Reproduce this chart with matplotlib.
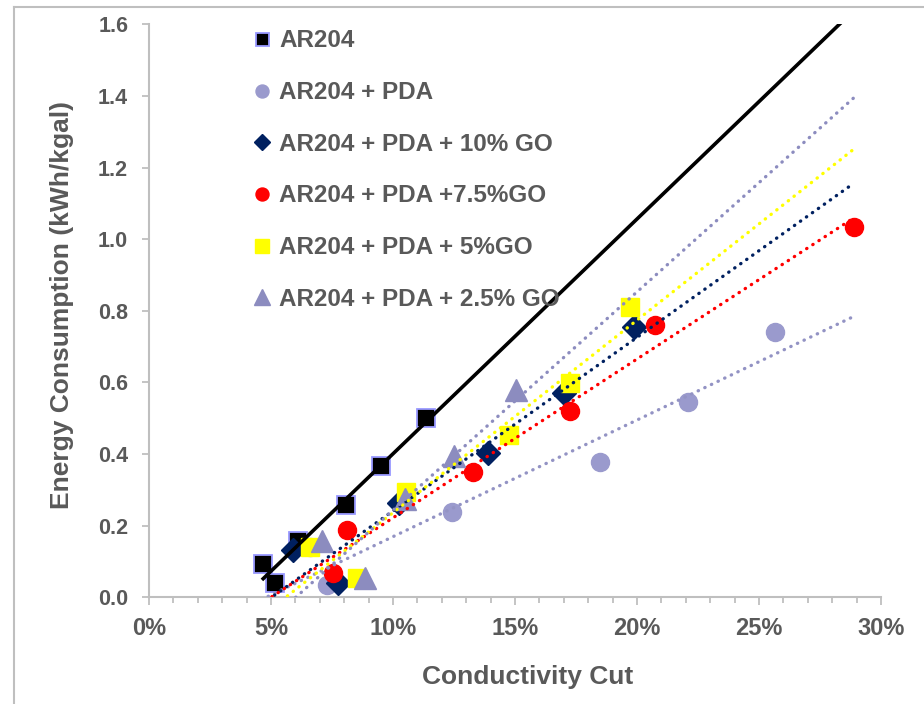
import numpy as np
import matplotlib
matplotlib.use("Agg")
import matplotlib.pyplot as plt
from matplotlib.lines import Line2D
from matplotlib.ticker import MultipleLocator, FuncFormatter

plt.rcParams['font.family'] = ['Liberation Sans', 'DejaVu Sans']
plt.rcParams['font.weight'] = 'bold'

# Conductivity cut (%) and energy consumption (kWh/kgal)
ar204_x = [4.68, 5.17, 6.11, 8.08, 9.52, 11.36]
ar204_y = [0.093, 0.040, 0.157, 0.258, 0.367, 0.501]

# first point sits behind a yellow square
pda_x = [6.60, 7.30, 12.42, 18.47, 22.07, 25.66]
pda_y = [0.141, 0.034, 0.237, 0.377, 0.545, 0.741]

go10_x = [5.92, 7.76, 10.23, 13.88, 17.02, 19.89]
go10_y = [0.132, 0.039, 0.262, 0.402, 0.570, 0.754]

go75_x = [7.56, 8.13, 13.28, 17.27, 20.74, 28.89]
go75_y = [0.067, 0.188, 0.351, 0.521, 0.760, 1.035]

go5_x = [6.60, 8.52, 10.54, 14.74, 17.24, 19.70]
go5_y = [0.141, 0.053, 0.295, 0.453, 0.598, 0.810]

go25_x = [7.08, 8.86, 10.50, 12.51, 15.05]
go25_y = [0.158, 0.053, 0.275, 0.395, 0.578]

labels = ['AR204', 'AR204 + PDA', 'AR204 + PDA + 10% GO', 'AR204 + PDA +7.5%GO',
          'AR204 + PDA + 5%GO', 'AR204 + PDA + 2.5% GO']

series = [
    (ar204_x, ar204_y, dict(marker='s', color='black', ms=13, mec='#9999FF', mew=1.3), 'black', '-'),
    (pda_x, pda_y, dict(marker='o', color='#9A9ACD', ms=13, mec='#9A9ACD'), '#9393C4', 'dot'),
    (go10_x, go10_y, dict(marker='D', color='#002060', ms=12, mec='#002060'), '#002060', 'dot'),
    (go75_x, go75_y, dict(marker='o', color='#FF0000', ms=13, mec='#FF0000'), '#FF0000', 'dot'),
    (go5_x, go5_y, dict(marker='s', color='#FFFF00', ms=13.5, mec='#FFFF00'), '#FFFF00', 'dot'),
    (go25_x, go25_y, dict(marker='^', color='#8C8CBF', ms=16, mec='#8C8CBF'), '#8C8CBF', 'dot'),
]

text_color = '#595959'
axis_color = '#BFBFBF'

fig = plt.figure(figsize=(9.24, 7.04), dpi=100)
ax = fig.add_axes([149 / 924, 1 - 597.3 / 704, 732 / 924, 573 / 704])

# chart area border (cropped on right/bottom)
fig.add_artist(Line2D([14 / 924, 14 / 924], [0, 1 - 7 / 704], color=axis_color, lw=1.5))
fig.add_artist(Line2D([14 / 924, 1], [1 - 7 / 704, 1 - 7 / 704], color=axis_color, lw=1.5))

x_end = max(max(s[0]) for s in series)

handles = []
for i, (xs, ys, mk, lc, ls) in enumerate(series):
    h, = ax.plot(xs, ys, linestyle='none', zorder=3 + i * 0.1, label=labels[i], **mk)
    handles.append(h)

# linear trendlines, drawn above the markers
for i, (xs, ys, mk, lc, ls) in enumerate(series):
    slope, icpt = np.polyfit(xs, ys, 1)
    if ls == '-':
        tx = np.array([min(xs), x_end])
        ax.plot(tx, slope * tx + icpt, color=lc, lw=2.6, zorder=5)
    else:
        tx = np.array([0, x_end])
        ax.plot(tx, slope * tx + icpt, color=lc, lw=2.4, linestyle=(0, (0.1, 2.1)),
                dash_capstyle='round', zorder=5)

ax.set_xlim(0, 30)
ax.set_ylim(0, 1.6)
ax.xaxis.set_major_locator(MultipleLocator(5))
ax.xaxis.set_minor_locator(MultipleLocator(1))
ax.yaxis.set_major_locator(MultipleLocator(0.2))
ax.xaxis.set_major_formatter(FuncFormatter(lambda v, p: f'{v:.0f}%'))
ax.yaxis.set_major_formatter(FuncFormatter(lambda v, p: f'{v:.1f}'))

for sp in ['top', 'right']:
    ax.spines[sp].set_visible(False)
for sp in ['left', 'bottom']:
    ax.spines[sp].set_color(axis_color)
    ax.spines[sp].set_linewidth(1.5)

ax.tick_params(axis='x', which='major', length=6, width=1.3, color=axis_color,
               labelsize=17, labelcolor=text_color, pad=8)
ax.tick_params(axis='x', which='minor', length=4, width=1.3, color=axis_color)
ax.tick_params(axis='y', which='major', length=5, width=1.3, color=axis_color,
               labelsize=15.5, labelcolor=text_color, pad=10)

ax.set_xlabel('Conductivity Cut', fontsize=19, color=text_color, fontweight='bold', va='center')
ax.xaxis.set_label_coords((528 - 149) / 732, (597.3 - 677) / 573)
ax.set_ylabel('Energy Consumption (kWh/kgal)', fontsize=19, color=text_color,
              fontweight='bold', va='center')
ax.yaxis.set_label_coords((62 - 149) / 732, (597.3 - 305) / 573)

leg = ax.legend(handles=handles, loc='upper left', bbox_to_anchor=(0.141, 0.991),
                frameon=False, fontsize=17.5, labelspacing=1.18, markerscale=0.72,
                handlelength=0.8, handletextpad=0.3, borderpad=0, borderaxespad=0)
for t in leg.get_texts():
    t.set_color(text_color)
    t.set_fontweight('bold')

fig.savefig('out.png', dpi=100)
